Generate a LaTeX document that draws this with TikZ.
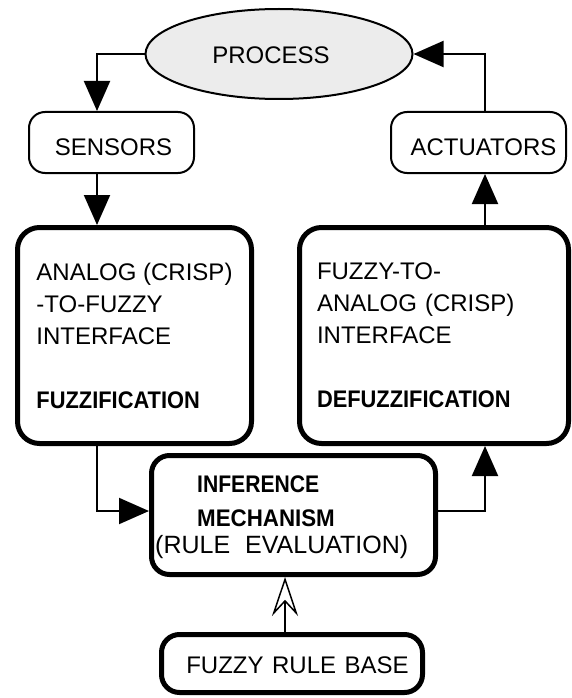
\documentclass[tikz,border=0pt]{standalone}
\usepackage{fontspec}
\usepackage{graphicx}
\setmainfont{Liberation Sans}
\usetikzlibrary{arrows.meta,shapes.geometric}
\definecolor{procfill}{HTML}{ECECEC}
\newcommand{\cb}[1]{\scalebox{0.91}[1]{\textbf{#1}}}
\begin{document}
\begin{tikzpicture}[x=1pt,y=-1pt,
  every node/.style={font=\fontsize{24}{32}\selectfont},
  thinbox/.style={draw=black, line width=2pt, rounded corners=16pt, inner sep=0pt},
  thickbox/.style={draw=black, line width=5pt, inner sep=0pt},
  conn/.style={line width=2pt, -{Triangle[length=30pt,width=26pt]}},
  hollow/.style={line width=1.5pt, -{Stealth[open, length=39pt, width=26pt, inset=14pt]}},
  txt/.style={inner sep=0pt, anchor=base west},
]
\useasboundingbox[fill=white] (0,0) rectangle (572,698);

\node[ellipse, draw, line width=2pt, fill=procfill, minimum width=267pt, minimum height=90pt, inner sep=0pt, text height=19pt] (proc) at (279,54) {PROCESS\hspace*{16pt}};
\node[thinbox, minimum width=165pt, minimum height=61pt, text height=27pt] (sens) at (111.5,142.5) {\hspace*{4pt}SENSORS};
\node[thinbox, minimum width=175pt, minimum height=61pt, text height=27pt] (act) at (478.5,142.5) {\hspace*{10pt}ACTUATORS};

\node[thickbox, rounded corners=22pt, minimum width=234pt, minimum height=216pt, align=left] (fuzz) at (134.5,335.5)
  {ANALOG (CRISP)\\-TO-FUZZY\\INTERFACE\\[32pt]\cb{FUZZIFICATION}};
\node[thickbox, rounded corners=22pt, text width=234pt, inner xsep=17.5pt, minimum height=216pt, align=left] (defuzz) at (434,335.5)
  {FUZZY-TO-\\ANALOG (CRISP)\\INTERFACE\\[32pt]\cb{DEFUZZIFICATION}};

\node[thickbox, rounded corners=18pt, minimum width=284pt, minimum height=119pt] (inf) at (293.5,515) {};
\node[txt] (inf1) at (197,492) {\scalebox{0.88}[1]{\textbf{INFERENCE}}};
\node[txt] (inf2) at (197,526) {\scalebox{0.93}[1]{\textbf{MECHANISM}}};
\node[txt, font=\fontsize{25}{32}\selectfont] (inf3) at (155,553) {(RULE\hspace{15pt}EVALUATION)};

\node[thickbox, rounded corners=18pt, minimum width=261pt, minimum height=58pt, text height=20pt] (rule) at (292,663.5) {\hspace*{11pt}FUZZY\hspace{8.5pt}RULE\hspace{8.5pt}BASE};

\coordinate (sx) at (97,0);
\coordinate (ax) at (485,0);
\coordinate (rx) at (285,0);
\coordinate (iy) at (0,511);

\draw[conn] (proc.west) -| (sx |- sens.north);
\draw[conn] (act.north -| ax) |- (proc.east);
\draw[conn] (sens.south -| sx) -- (fuzz.north -| sx);
\draw[conn] (defuzz.north -| ax) -- (act.south -| ax);
\draw[conn] (fuzz.south -| sx) |- (inf.west |- iy);
\draw[conn] (inf.east |- iy) -| (defuzz.south -| ax);
\draw[hollow] (rule.north -| rx) -- (inf.south -| rx);
\end{tikzpicture}
\end{document}
